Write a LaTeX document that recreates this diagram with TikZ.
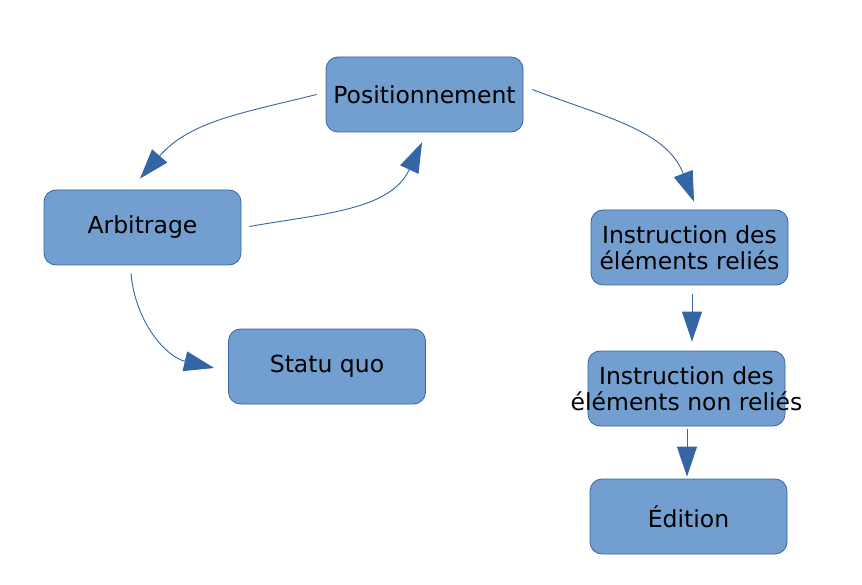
\documentclass[tikz,border=0pt]{standalone}
\usepackage{fontspec}
\setmainfont{DejaVu Sans}
\usetikzlibrary{arrows.meta}
\definecolor{boxfill}{HTML}{729FCF}
\definecolor{boxline}{HTML}{3465A4}
\tikzset{
    etape/.style={draw=boxline, fill=boxfill, rounded corners=12pt, line width=0.8pt,
        minimum width=197pt, minimum height=75pt, inner sep=0pt, align=center,
        font=\fontsize{23.5}{26.5}\selectfont},
    lien/.style={draw=boxline, line width=0.9pt, -{Triangle[length=30pt,width=20pt]}}
}
\begin{document}
\begin{tikzpicture}[x=1pt,y=1pt]
        \useasboundingbox (0,0) rectangle (862,-585);
        \node [etape] (pos) at (424.5,-94.5) {Positionnement};
        \node [etape] (arb) at (142.5,-227.5) {Arbitrage};
        \node [etape] (sq) at (327,-366.5) {Statu quo};
        \node [etape] (rel) at (689.5,-247.5) {Instruction des\\éléments reliés};
        \node [etape] (nrel) at (686.5,-388.5) {\makebox[150pt]{Instruction des}\\\makebox[150pt]{éléments non reliés}};
        \node [etape] (ed) at (688.5,-516.5) {Édition};
        % cycle positionnement / arbitrage
        \draw [lien] ([xshift=-9pt]pos.west) to[out=194,in=49] ([xshift=-2.5pt,yshift=11pt]arb.north);
        \draw [lien] ([xshift=8pt,yshift=1pt]arb.east) to[out=10,in=245] ([xshift=-2.5pt,yshift=-10pt]pos.south);
        \draw [lien] ([xshift=-11.5pt,yshift=-8pt]arb.south) to[out=-85,in=167] ([xshift=-14pt,yshift=-1.5pt]sq.west);
        % instruction
        \draw [lien] ([xshift=9pt,yshift=5pt]pos.east) to[out=-21,in=111] ([xshift=4.5pt,yshift=8pt]rel.north);
        \draw [lien] ([xshift=2.5pt,yshift=-9pt]rel.south) -- ([xshift=5.5pt,yshift=9pt]nrel.north);
        \draw [lien] ([xshift=0.5pt,yshift=-3pt]nrel.south) -- ([xshift=-1.5pt,yshift=2pt]ed.north);
\end{tikzpicture}
\end{document}
